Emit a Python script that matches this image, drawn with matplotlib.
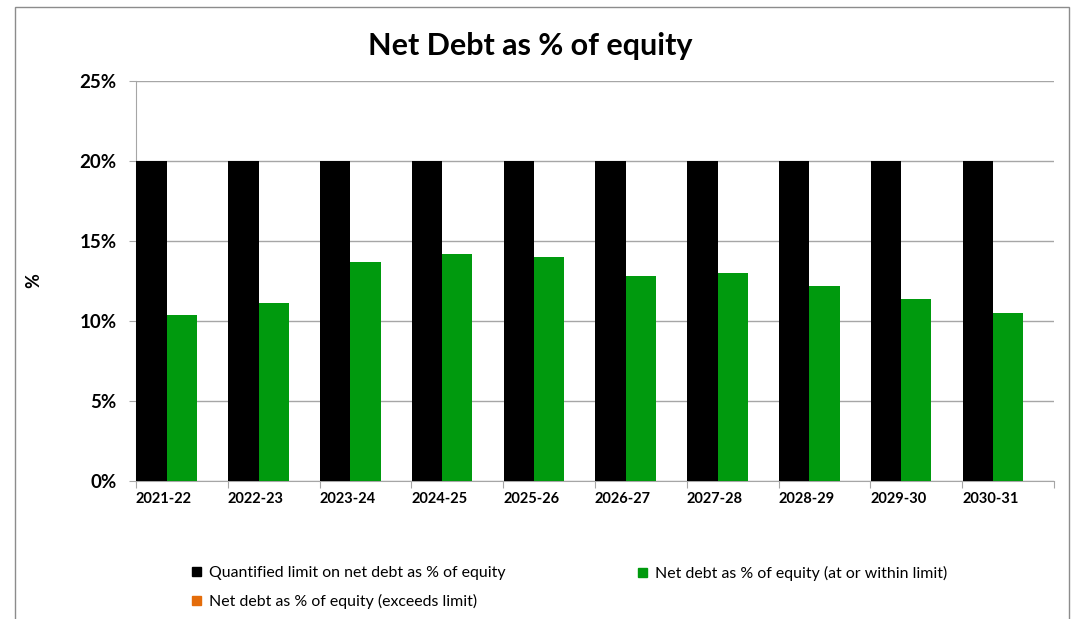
import matplotlib
matplotlib.use("Agg")
import matplotlib.pyplot as plt
import numpy as np
from matplotlib.patches import Patch, Rectangle

plt.rcParams["font.family"] = ["Lato", "DejaVu Sans"]

years = ["2021-22", "2022-23", "2023-24", "2024-25", "2025-26",
         "2026-27", "2027-28", "2028-29", "2029-30", "2030-31"]
limit = [20, 20, 20, 20, 20, 20, 20, 20, 20, 20]
net_debt_ok = [10.4, 11.1, 13.7, 14.2, 14.0, 12.8, 13.0, 12.2, 11.4, 10.5]
net_debt_over = [0, 0, 0, 0, 0, 0, 0, 0, 0, 0]

BLACK = "#000000"
GREEN = "#009a0e"
ORANGE = "#e46c0a"
GRID = "#a6a6a6"

fig = plt.figure(figsize=(10.75, 6.19), dpi=100)
ax = fig.add_axes([136 / 1075, 1 - 481 / 619, 918 / 1075, 400 / 619])

# outer chart frame
fig.patches.append(Rectangle((15 / 1075, -0.05), (1069 - 15) / 1075, 1.05 - 7 / 619,
                             transform=fig.transFigure, fill=False,
                             edgecolor="#8c8c8c", lw=1.0))

x = np.arange(len(years))
w = 0.33
off = 0.005
ax.bar(x + off, limit, w, align="edge", color=BLACK, zorder=3)
ax.bar(x + off + w, net_debt_ok, w, align="edge", color=GREEN, zorder=3)
ax.bar(x + off + 2 * w, net_debt_over, w, align="edge", color=ORANGE, zorder=3)

ax.set_xlim(0, len(years))
ax.set_ylim(0, 25)

ax.set_yticks(np.arange(0, 26, 5))
ax.set_yticklabels([f"{v}%" for v in range(0, 26, 5)], fontsize=13.5, fontweight="bold")
ax.yaxis.grid(True, color=GRID, lw=1.0, zorder=0)
ax.tick_params(axis="y", length=5, color=GRID, pad=9)

ax.set_xticks(np.arange(len(years) + 1))
ax.set_xticklabels([])
ax.set_xticks(x + 0.305, minor=True)
ax.set_xticklabels(years, minor=True, fontsize=10.5, fontweight="bold")
ax.tick_params(axis="x", which="major", length=5, color=GRID)
ax.tick_params(axis="x", which="minor", length=0, pad=8)

for s in ["top", "right"]:
    ax.spines[s].set_visible(False)
for s in ["left", "bottom"]:
    ax.spines[s].set_color(GRID)

ax.set_ylabel("%", fontsize=13, fontweight="bold")
ax.yaxis.set_label_coords(-94 / 918, 0.5)

fig.text(530 / 1075, 1 - 46 / 619, "Net Debt as % of equity", ha="center", va="center",
         fontsize=22, fontweight="bold")

leg_kw = dict(frameon=False, fontsize=11.4, handlelength=0.55, handleheight=0.55,
              handletextpad=0.5, labelspacing=0.9, borderaxespad=0, borderpad=0)
fig.legend(handles=[Patch(color=BLACK, label="Quantified limit on net debt as % of equity"),
                    Patch(color=ORANGE, label="Net debt as % of equity (exceeds limit)")],
           loc="upper left", bbox_to_anchor=(192 / 1075, 1 - 566 / 619), **leg_kw)
fig.legend(handles=[Patch(color=GREEN, label="Net debt as % of equity (at or within limit)")],
           loc="upper left", bbox_to_anchor=(638 / 1075, 1 - 566 / 619), **leg_kw)

fig.savefig("out.png", dpi=100)
